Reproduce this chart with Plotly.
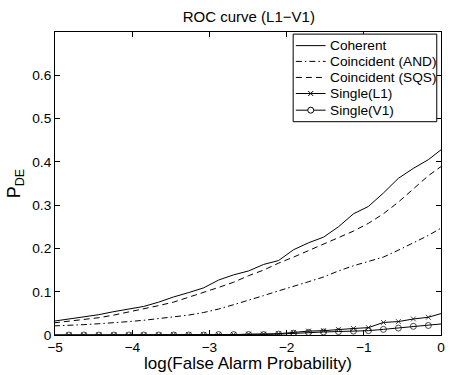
import plotly.graph_objects as go

x_log_fap = [-5.014, -4.82, -4.626, -4.432, -4.238, -4.044, -3.85, -3.656, -3.462,
             -3.268, -3.074, -2.88, -2.686, -2.492, -2.298, -2.104, -1.91, -1.716,
             -1.522, -1.328, -1.134, -0.94, -0.746, -0.552, -0.358, -0.164, 0.03]

coherent = [0.032, 0.037, 0.041, 0.047, 0.054, 0.060, 0.066, 0.076, 0.088,
            0.098, 0.109, 0.127, 0.139, 0.148, 0.163, 0.172, 0.197, 0.213,
            0.226, 0.250, 0.280, 0.297, 0.328, 0.362, 0.385, 0.405, 0.432]

coincident_and = [0.021, 0.022, 0.024, 0.026, 0.028, 0.031, 0.034, 0.038, 0.042,
                  0.046, 0.052, 0.060, 0.070, 0.080, 0.091, 0.102, 0.112, 0.123,
                  0.134, 0.148, 0.160, 0.170, 0.180, 0.196, 0.213, 0.230, 0.250]

coincident_sqs = [0.028, 0.032, 0.036, 0.040, 0.046, 0.053, 0.061, 0.068, 0.076,
                  0.087, 0.098, 0.110, 0.122, 0.137, 0.150, 0.166, 0.180, 0.195,
                  0.210, 0.224, 0.240, 0.258, 0.280, 0.307, 0.337, 0.368, 0.393]

single_l1 = [0.0, 0.0, 0.0, 0.0, 0.0, 0.0, 0.0, 0.0, 0.001,
             0.001, 0.001, 0.001, 0.001, 0.002, 0.002, 0.003, 0.006, 0.009,
             0.010, 0.013, 0.015, 0.017, 0.029, 0.031, 0.037, 0.041, 0.051]

single_v1 = [0.0, 0.0, 0.0, 0.0, 0.0, 0.0, 0.0, 0.0, 0.0,
             0.0, 0.0, 0.001, 0.001, 0.001, 0.001, 0.002, 0.004, 0.006,
             0.007, 0.008, 0.009, 0.010, 0.013, 0.016, 0.020, 0.022, 0.026]

series_names = ["Coherent", "Coincident (AND)", "Coincident (SQS)", "Single(L1)", "Single(V1)"]

x_ticks = [-5, -4, -3, -2, -1, 0]
y_ticks = [0, 0.1, 0.2, 0.3, 0.4, 0.5, 0.6]

FONT = "Liberation Sans, Arial, sans-serif"
DASHDOT = "6px,3px,1.5px,3px"
DASH = "6px,4px"


def sizes(xs, s):
    return [s if -5 <= v <= 0 else 0 for v in xs]


fig = go.Figure()
fig.add_trace(go.Scatter(x=x_log_fap, y=coherent, mode="lines", name=series_names[0],
                         line=dict(color="black", width=1)))
fig.add_trace(go.Scatter(x=x_log_fap, y=coincident_and, mode="lines", name=series_names[1],
                         line=dict(color="black", width=1, dash=DASHDOT)))
fig.add_trace(go.Scatter(x=x_log_fap, y=coincident_sqs, mode="lines", name=series_names[2],
                         line=dict(color="black", width=1, dash=DASH)))
fig.add_trace(go.Scatter(x=x_log_fap, y=single_l1, mode="lines+markers", name=series_names[3],
                         line=dict(color="black", width=1),
                         marker=dict(symbol="x-thin-open", size=sizes(x_log_fap, 5),
                                     color="black", line=dict(color="black", width=1))))
fig.add_trace(go.Scatter(x=x_log_fap, y=single_v1, mode="lines+markers", name=series_names[4],
                         line=dict(color="black", width=1),
                         marker=dict(symbol="circle-open", size=sizes(x_log_fap, 6),
                                     color="black", line=dict(color="black", width=1))))

# ---- manual legend (paper coordinates of the plot area) ----
LX0, LX1, LY0, LY1 = 0.617, 0.989, 0.704, 0.993
entry_y = [0.955, 0.903, 0.850, 0.797, 0.742]
sx0, sx1, smid, tx = 0.624, 0.701, 0.6625, 0.707
dashes = ["solid", DASHDOT, DASH, "solid", "solid"]

shapes = [dict(type="rect", xref="paper", yref="paper", x0=LX0, x1=LX1, y0=LY0, y1=LY1,
               line=dict(color="black", width=1), fillcolor="white", layer="above")]
annotations = []
for i, nm in enumerate(series_names):
    yy = entry_y[i]
    shapes.append(dict(type="line", xref="paper", yref="paper", x0=sx0, x1=sx1, y0=yy, y1=yy,
                       line=dict(color="black", width=1, dash=dashes[i]), layer="above"))
    annotations.append(dict(text=nm, xref="paper", yref="paper", x=tx, y=yy,
                            xanchor="left", yanchor="middle", showarrow=False,
                            font=dict(family=FONT, size=13.7, color="black")))
# x marker
for a, b in [(-2.5, 2.5), (2.5, -2.5)]:
    shapes.append(dict(type="line", xref="paper", yref="paper", xsizemode="pixel", ysizemode="pixel",
                       xanchor=smid, yanchor=entry_y[3], x0=-2.5, x1=2.5, y0=a, y1=b,
                       line=dict(color="black", width=1), layer="above"))
# circle marker
shapes.append(dict(type="circle", xref="paper", yref="paper", xsizemode="pixel", ysizemode="pixel",
                   xanchor=smid, yanchor=entry_y[4], x0=-3, x1=3, y0=-3, y1=3,
                   line=dict(color="black", width=1), fillcolor="white", layer="above"))

# x-axis title as annotation for precise placement
annotations.append(dict(text="log(False Alarm Probability)", xref="paper", yref="paper",
                        x=0.5, y=-0.093, xanchor="center", yanchor="middle", showarrow=False,
                        font=dict(family=FONT, size=17, color="black")))

axis_common = dict(showline=True, linecolor="black", linewidth=1, mirror="ticks",
                   ticks="inside", ticklen=5, tickcolor="black", showgrid=False,
                   zeroline=False, automargin=False,
                   tickfont=dict(family=FONT, size=13.7, color="black"))

fig.update_layout(
    width=450, height=375,
    margin=dict(l=55, r=9, t=32, b=40),
    paper_bgcolor="white", plot_bgcolor="white",
    font=dict(family=FONT, color="black"),
    title=dict(text="ROC curve (L1\u2212V1)", x=0.553, xanchor="center", y=0.955, yanchor="middle",
               font=dict(family=FONT, size=15, color="black"), automargin=False),
    xaxis=dict(range=[-5, 0], tickvals=x_ticks,
               ticktext=[("\u2212" + str(abs(t))) if t < 0 else str(t) for t in x_ticks],
               **axis_common),
    yaxis=dict(range=[0, 0.7], tickvals=y_ticks,
               ticktext=["0", "0.1", "0.2", "0.3", "0.4", "0.5", "0.6"],
               title=dict(text="P<sub>DE</sub>", standoff=6,
                          font=dict(family=FONT, size=18, color="black")),
               **axis_common),
    shapes=shapes,
    annotations=annotations,
    showlegend=False,
)

fig.write_html("out.html", config={"displayModeBar": False})

# remove the browser's default page margin so the figure sits at the window's corner
with open("out.html", encoding="utf-8") as f:
    html = f.read()
html = html.replace("<head>", "<head><style>html,body{margin:0;padding:0;overflow:hidden;}</style>", 1)
with open("out.html", "w", encoding="utf-8") as f:
    f.write(html)
